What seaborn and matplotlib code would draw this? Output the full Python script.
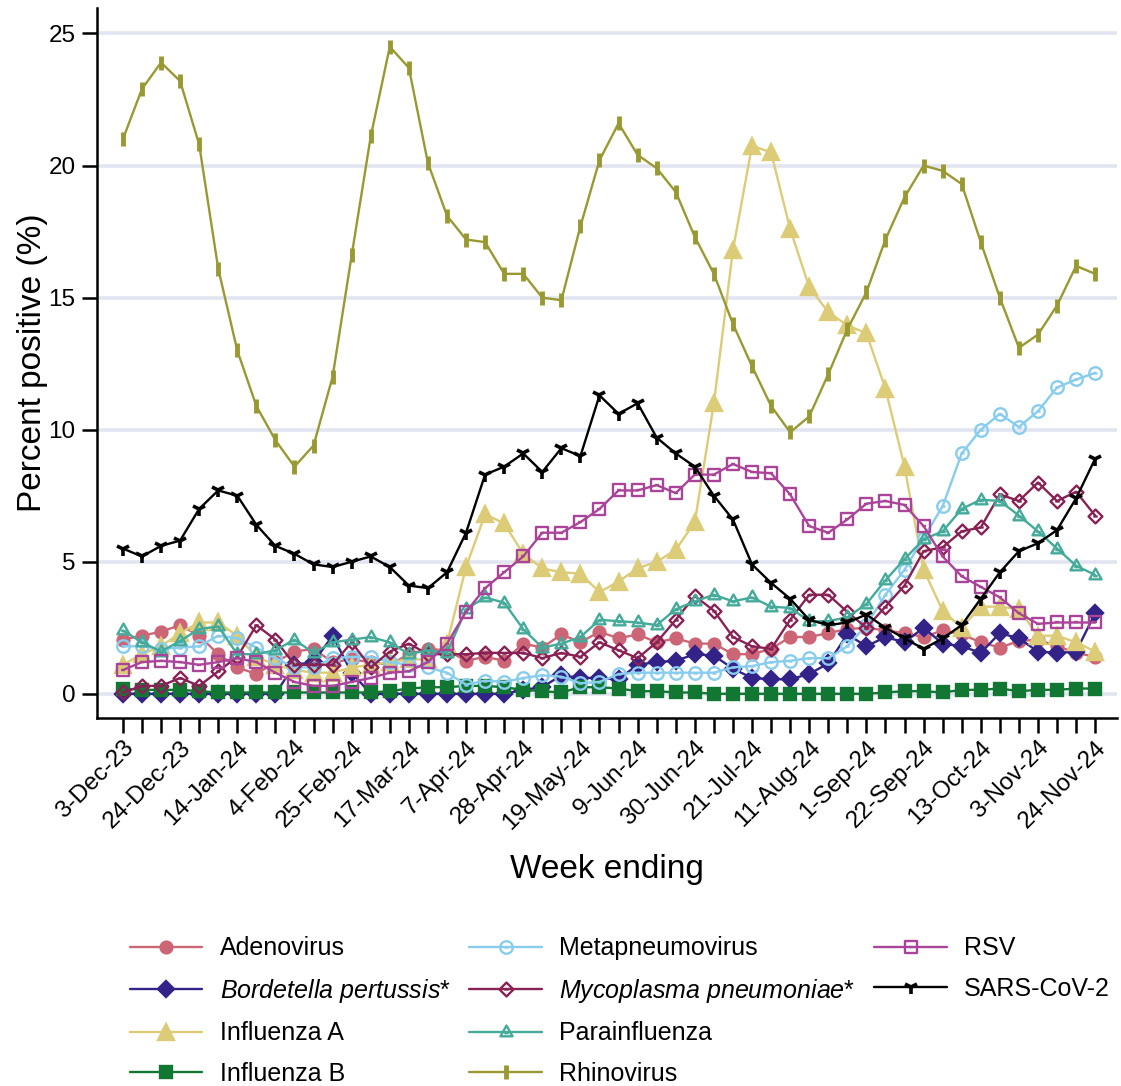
import numpy as np
import pandas as pd
import seaborn as sns
import matplotlib
matplotlib.use('Agg')
import matplotlib.pyplot as plt
from matplotlib.path import Path
from matplotlib.lines import Line2D

# weekly test positivity, week ending 3-Dec-23 .. 24-Nov-24
weeks = pd.date_range('2023-12-03', periods=52, freq='7D')

adenovirus = [2.05, 2.2, 2.35, 2.6, 2.2, 1.5, 1.0, 0.75, 1.2, 1.6, 1.7, 1.2, 1.3, 1.2, 1.1, 1.5, 1.7, 1.65,
              1.25, 1.4, 1.25, 1.9, 1.75, 2.25, 1.95, 2.35, 2.1, 2.25, 1.95, 2.1, 1.9, 1.9, 1.5, 1.5, 1.7, 2.15,
              2.15, 2.3, 2.45, 2.5, 2.4, 2.3, 2.15, 2.4, 2.25, 1.95, 1.75, 2.0, 2.05, 1.8, 1.55, 1.4]
bordetella = [0, 0, 0, 0, 0, 0, 0, 0, 0, 1.1, 1.2, 2.2, 0.8, 0, 0, 0, 0, 0, 0, 0, 0, 0.15, 0.25, 0.7,
              0.6, 0.6, 0.55, 1.1, 1.2, 1.25, 1.5, 1.45, 0.95, 0.6, 0.55, 0.55, 0.75, 1.15, 2.25, 1.8, 2.15,
              1.95, 2.5, 1.9, 1.8, 1.55, 2.3, 2.1, 1.6, 1.55, 1.6, 3.05]
influenza_a = [1.1, 1.5, 1.8, 2.3, 2.7, 2.7, 2.2, 1.4, 1.1, 0.9, 0.8, 0.8, 1.0, 1.1, 1.2, 1.3, 1.3, 1.9,
               4.8, 6.8, 6.45, 5.3, 4.75, 4.6, 4.55, 3.85, 4.25, 4.75, 5.0, 5.45, 6.5, 11.0, 16.8, 20.75,
               20.5, 17.6, 15.4, 14.45, 13.95, 13.65, 11.55, 8.6, 4.7, 3.15, 2.5, 3.3, 3.3, 3.2, 2.2, 2.2,
               1.95, 1.6]
influenza_b = [0.2, 0.15, 0.15, 0.15, 0.1, 0.05, 0.05, 0.05, 0.05, 0.05, 0.05, 0.05, 0.05, 0.05, 0.1, 0.2,
               0.25, 0.25, 0.3, 0.3, 0.25, 0.15, 0.1, 0.05, 0.25, 0.25, 0.2, 0.1, 0.1, 0.05, 0.05, 0.0, 0.0,
               0.0, 0.0, 0.0, 0.0, 0.0, 0.0, 0.0, 0.05, 0.1, 0.1, 0.05, 0.15, 0.15, 0.2, 0.1, 0.15, 0.15,
               0.2, 0.2]
metapneumovirus = [1.8, 1.8, 1.7, 1.75, 1.8, 2.2, 2.1, 1.75, 1.35, 1.0, 1.0, 1.35, 1.4, 1.4, 1.2, 1.1, 1.0,
                   0.8, 0.35, 0.5, 0.45, 0.6, 0.7, 0.65, 0.4, 0.45, 0.75, 0.8, 0.8, 0.8, 0.8, 0.8, 1.0, 1.05,
                   1.2, 1.25, 1.35, 1.35, 1.8, 2.6, 3.75, 4.7, 5.9, 7.1, 9.1, 10.0, 10.6, 10.1, 10.7, 11.6,
                   11.9, 12.15]
mycoplasma = [0.05, 0.3, 0.3, 0.6, 0.3, 0.85, 1.4, 2.6, 2.05, 1.1, 1.1, 1.1, 1.95, 1.0, 1.6, 1.9, 1.5, 1.5,
              1.5, 1.55, 1.55, 1.55, 1.35, 1.55, 1.4, 1.95, 1.65, 1.35, 1.95, 2.8, 3.7, 3.15, 2.15, 1.8, 1.7,
              2.8, 3.75, 3.75, 3.1, 2.5, 3.3, 4.1, 5.4, 5.55, 6.15, 6.3, 7.55, 7.3, 8.0, 7.3, 7.65, 6.75]
parainfluenza = [2.4, 1.95, 1.6, 2.0, 2.45, 2.55, 1.5, 1.5, 1.65, 2.05, 1.55, 1.95, 2.05, 2.15, 1.95, 1.5,
                 1.65, 1.55, 3.2, 3.65, 3.45, 2.45, 1.75, 1.9, 2.15, 2.8, 2.75, 2.7, 2.6, 3.2, 3.5, 3.75, 3.5,
                 3.65, 3.3, 3.25, 2.75, 2.75, 2.9, 3.4, 4.3, 5.1, 5.85, 6.15, 7.0, 7.35, 7.3, 6.75, 6.15,
                 5.5, 4.85, 4.5]
rhinovirus = [21.0, 22.9, 23.9, 23.2, 20.8, 16.1, 13.0, 10.9, 9.6, 8.6, 9.4, 12.0, 16.6, 21.1, 24.5, 23.7,
              20.1, 18.1, 17.2, 17.1, 15.9, 15.9, 15.0, 14.9, 17.7, 20.2, 21.6, 20.4, 19.9, 19.0, 17.3, 15.9,
              14.0, 12.4, 10.9, 9.9, 10.5, 12.1, 13.8, 15.2, 17.2, 18.8, 20.0, 19.8, 19.3, 17.1, 15.0, 13.1,
              13.6, 14.7, 16.2, 15.9]
rsv = [0.9, 1.2, 1.25, 1.2, 1.1, 1.2, 1.35, 1.2, 0.8, 0.45, 0.3, 0.3, 0.45, 0.6, 0.8, 0.85, 1.2, 1.9, 3.1,
       4.0, 4.6, 5.2, 6.1, 6.1, 6.5, 7.0, 7.7, 7.7, 7.9, 7.6, 8.3, 8.3, 8.7, 8.4, 8.35, 7.55, 6.35, 6.1, 6.6,
       7.2, 7.3, 7.15, 6.35, 5.2, 4.45, 4.05, 3.65, 3.05, 2.65, 2.7, 2.7, 2.7]
sars_cov_2 = [5.5, 5.2, 5.6, 5.8, 7.0, 7.7, 7.5, 6.4, 5.6, 5.3, 4.9, 4.8, 5.0, 5.2, 4.8, 4.1, 4.0, 4.6, 6.1,
              8.3, 8.6, 9.1, 8.4, 9.3, 9.0, 11.3, 10.6, 11.0, 9.7, 9.1, 8.6, 7.5, 6.6, 4.9, 4.2, 3.6, 2.8,
              2.6, 2.7, 3.0, 2.5, 2.1, 1.7, 2.1, 2.6, 3.6, 4.6, 5.4, 5.7, 6.2, 7.4, 8.9]

y_ticks = [0, 5, 10, 15, 20, 25]


def hollow(outline, dash_y=0.0):
    # open marker with a small dash in the middle
    dash = Path([(-0.32, dash_y), (0.32, dash_y)], [Path.MOVETO, Path.LINETO])
    return Path.make_compound_path(outline, dash)


circle_o = hollow(Path.circle((0, 0), 1.0))
square_o = hollow(Path([(-1, -1), (1, -1), (1, 1), (-1, 1), (-1, -1)],
                       [Path.MOVETO, Path.LINETO, Path.LINETO, Path.LINETO, Path.CLOSEPOLY]))
diamond_o = hollow(Path([(0, -1), (1, 0), (0, 1), (-1, 0), (0, -1)],
                        [Path.MOVETO, Path.LINETO, Path.LINETO, Path.LINETO, Path.CLOSEPOLY]))
triangle_o = hollow(Path([(0, 1), (0.87, -0.55), (-0.87, -0.55), (0, 1)],
                         [Path.MOVETO, Path.LINETO, Path.LINETO, Path.CLOSEPOLY]), dash_y=-0.1)

# label, values, colour, marker, filled, marker size
series = [
    ('Adenovirus', adenovirus, '#CC6677', 'o', True, 8.5),
    (r'$\it{Bordetella\ pertussis}$*', bordetella, '#332288', 'D', True, 8),
    ('Influenza A', influenza_a, '#DDCC77', '^', True, 11),
    ('Influenza B', influenza_b, '#117733', 's', True, 8),
    ('Metapneumovirus', metapneumovirus, '#88CCEE', circle_o, False, 9),
    (r'$\it{Mycoplasma\ pneumoniae}$*', mycoplasma, '#882255', diamond_o, False, 10),
    ('Parainfluenza', parainfluenza, '#44AA99', triangle_o, False, 10),
    ('Rhinovirus', rhinovirus, '#999933', '|', True, 10),
    ('RSV', rsv, '#AA4499', square_o, False, 8),
    ('SARS-CoV-2', sars_cov_2, 'black', '1', True, 10),
]

sns.set_theme(style='white')
plt.rcParams['font.family'] = ['Liberation Sans', 'DejaVu Sans']
plt.rcParams['text.color'] = 'black'
plt.rcParams['mathtext.fontset'] = 'custom'
plt.rcParams['mathtext.it'] = 'Liberation Sans:italic'
plt.rcParams['mathtext.rm'] = 'Liberation Sans'

fig = plt.figure(figsize=(11.21, 10.86), dpi=100)
ax = fig.add_axes([0.0865, 0.339, 0.91, 0.654])

for y in y_ticks:
    ax.axhline(y, color='#E2E5F1', lw=2.6, zorder=0)

handles = []
for label, vals, color, marker, filled, ms in series:
    df = pd.DataFrame({'week': weeks, 'value': vals})
    mew = 1.7
    if marker == '|':
        mew = 3.5
    elif marker == '1':
        mew = 2.6
    sns.lineplot(data=df, x='week', y='value', ax=ax, color=color, lw=1.7, marker=marker,
                 markersize=ms, markeredgewidth=mew, markeredgecolor=color,
                 markerfacecolor=color if filled else 'none', label=label, legend=False)
    handles.append(ax.lines[-1])

step = pd.Timedelta(days=7)
ax.set_xlim(weeks[0] - 1.36 * step, weeks[-1] + 1.15 * step)
ax.set_ylim(-0.91, 25.98)
ax.set_yticks(y_ticks)
ax.set_yticklabels([str(v) for v in y_ticks])
ax.set_xticks(weeks[::3])
ax.set_xticklabels([f"{d.day}-{d.strftime('%b-%y')}" for d in weeks[::3]],
                   rotation=45, ha='right', rotation_mode='anchor')
ax.set_xticks(weeks, minor=True)
ax.tick_params(axis='both', which='both', direction='out', length=10.5, width=1.8, color='black',
               labelsize=17.5, labelcolor='black', bottom=True, left=True)
ax.tick_params(axis='y', pad=5)
ax.tick_params(axis='x', pad=3)

ax.set_xlabel('Week ending', fontsize=24, labelpad=14, color='black')
ax.set_ylabel('Percent positive (%)', fontsize=24, labelpad=0, color='black')

sns.despine(ax=ax)
for side in ['left', 'bottom']:
    ax.spines[side].set_color('black')
    ax.spines[side].set_linewidth(1.8)

# pad so the legend fills column by column as 4 / 4 / 2
blank = Line2D([], [], alpha=0)
leg_handles = handles + [blank, blank]
leg_labels = [s[0] for s in series] + ['', '']
fig.legend(leg_handles, leg_labels, ncol=3, loc='center', bbox_to_anchor=(0.553, 0.069),
           frameon=False, fontsize=18, handlelength=2.9, handletextpad=0.7,
           columnspacing=0.75, labelspacing=0.66)

fig.savefig('out.png', dpi=100)
